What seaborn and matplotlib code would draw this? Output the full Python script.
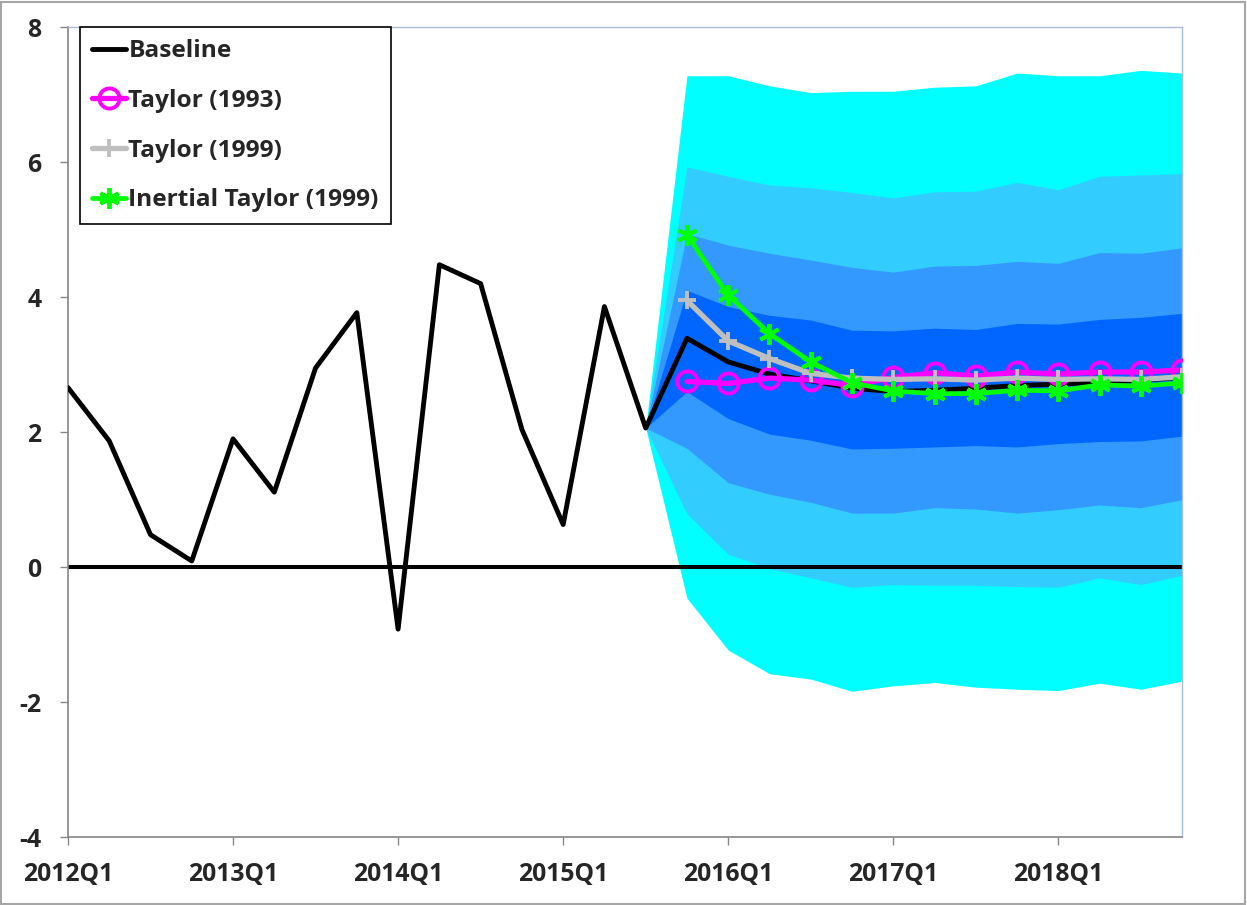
import matplotlib
matplotlib.use("Agg")
import matplotlib.pyplot as plt
import numpy as np
import pandas as pd
import seaborn as sns
from matplotlib import font_manager
from matplotlib.lines import Line2D
from matplotlib.patches import Rectangle

# quarters on the category axis
quarters = [
    "2012Q1", "2012Q2", "2012Q3", "2012Q4",
    "2013Q1", "2013Q2", "2013Q3", "2013Q4",
    "2014Q1", "2014Q2", "2014Q3", "2014Q4",
    "2015Q1", "2015Q2", "2015Q3", "2015Q4",
    "2016Q1", "2016Q2", "2016Q3", "2016Q4",
    "2017Q1", "2017Q2", "2017Q3", "2017Q4",
    "2018Q1", "2018Q2", "2018Q3", "2018Q4",
]
tick_labels = ["2012Q1", "2013Q1", "2014Q1", "2015Q1", "2016Q1", "2017Q1", "2018Q1"]

baseline = [2.66, 1.87, 0.48, 0.09, 1.90, 1.11, 2.95, 3.77, -0.92, 4.48, 4.20,
            2.04, 0.63, 3.86, 2.06,
            3.39, 3.04, 2.86, 2.76, 2.65, 2.60, 2.62, 2.65, 2.69, 2.71, 2.74, 2.77, 2.81]

# alternative rules, 2015Q4 onward
taylor_1993 = [2.75, 2.72, 2.80, 2.77, 2.69, 2.81, 2.88, 2.83, 2.89, 2.86, 2.89, 2.89, 2.92]
taylor_1999 = [3.95, 3.35, 3.09, 2.87, 2.80, 2.78, 2.79, 2.77, 2.80, 2.78, 2.79, 2.78, 2.82]
inertial_1999 = [4.92, 4.03, 3.46, 3.04, 2.73, 2.61, 2.57, 2.57, 2.62, 2.61, 2.70, 2.68, 2.73]

# fan bands, 2015Q3 onward (start at baseline value)
cyan_hi = [2.06, 7.28, 7.28, 7.13, 7.03, 7.05, 7.05, 7.11, 7.13, 7.32, 7.28, 7.28, 7.36, 7.32]
light_hi = [2.06, 5.93, 5.79, 5.66, 5.62, 5.55, 5.47, 5.56, 5.57, 5.70, 5.59, 5.79, 5.81, 5.83]
mid_hi = [2.06, 4.94, 4.77, 4.65, 4.55, 4.44, 4.37, 4.46, 4.47, 4.53, 4.50, 4.66, 4.65, 4.73]
dark_hi = [2.06, 4.10, 3.86, 3.73, 3.66, 3.51, 3.50, 3.54, 3.52, 3.61, 3.60, 3.67, 3.70, 3.76]
dark_lo = [2.06, 2.60, 2.20, 1.97, 1.88, 1.75, 1.76, 1.78, 1.80, 1.78, 1.83, 1.86, 1.87, 1.94]
mid_lo = [2.06, 1.76, 1.25, 1.08, 0.96, 0.80, 0.80, 0.88, 0.86, 0.80, 0.85, 0.92, 0.88, 1.00]
light_lo = [2.06, 0.79, 0.19, -0.02, -0.16, -0.30, -0.26, -0.27, -0.27, -0.29, -0.30, -0.16, -0.26, -0.12]
cyan_lo = [2.06, -0.46, -1.23, -1.58, -1.66, -1.84, -1.76, -1.71, -1.78, -1.81, -1.83, -1.72, -1.81, -1.69]

legend_labels = ["Baseline", "Taylor (1993)", "Taylor (1999)", "Inertial Taylor (1999)"]

# +
sns.set_style("white")

# pick a family that really has a bold face
bold_fams = {f.name for f in font_manager.fontManager.ttflist if f.weight in (700, "bold")}
family = "DejaVu Sans"
for cand in ["Open Sans", "Noto Sans", "Roboto", "Liberation Sans", "Lato"]:
    if cand in bold_fams:
        family = cand
        break
plt.rcParams["font.family"] = [family, "DejaVu Sans"]
plt.rcParams["font.weight"] = "bold"

pos = np.arange(len(quarters))
fan_pos = pos[quarters.index("2015Q3"):]
alt_pos = pos[quarters.index("2015Q4"):]

base_df = pd.DataFrame({"pos": pos, "value": baseline})
alt_df = pd.DataFrame({
    "pos": alt_pos,
    "t93": taylor_1993,
    "t99": taylor_1999,
    "it99": inertial_1999,
})

fig, ax = plt.subplots(figsize=(12.47, 9.05), dpi=100)
fig.subplots_adjust(left=0.0545, right=0.948, bottom=0.0751, top=0.970)
renderer = fig.canvas.get_renderer()


def fit_size(text, target_px):
    t = fig.text(0, 0, text, fontsize=10, fontweight="bold")
    w = t.get_window_extent(renderer=renderer).width
    t.remove()
    return 10 * target_px / w


tick_fs = fit_size("2013Q1", 90)
leg_fs = fit_size("Inertial Taylor (1999)", 251)

bands = [
    (cyan_lo, cyan_hi, "#00FFFF"),
    (light_lo, light_hi, "#33CCFF"),
    (mid_lo, mid_hi, "#3399FF"),
    (dark_lo, dark_hi, "#0066FF"),
]
for lo, hi, col in bands:
    ax.fill_between(fan_pos, lo, hi, color=col, linewidth=0, zorder=1)

ax.axhline(0, color="black", linewidth=2.9, zorder=2)

magenta_kw = dict(color="#FF00FF", linewidth=3.8, marker="o", markersize=14.5,
                  markerfacecolor="none", markeredgecolor="#FF00FF", markeredgewidth=2.8)
grey_kw = dict(color="#BFBFBF", linewidth=3.8, marker="+", markersize=13,
               markeredgecolor="#BFBFBF", markeredgewidth=2.8)
green_kw = dict(color="#00FF00", linewidth=3.4, marker=(6, 2, 0), markersize=15,
                markeredgecolor="#00FF00", markeredgewidth=2.8)

sns.lineplot(data=base_df, x="pos", y="value", ax=ax, color="black",
             linewidth=3.5, zorder=3)
sns.lineplot(data=alt_df, x="pos", y="t93", ax=ax, zorder=4, **magenta_kw)
sns.lineplot(data=alt_df, x="pos", y="t99", ax=ax, zorder=5, **grey_kw)
sns.lineplot(data=alt_df, x="pos", y="it99", ax=ax, zorder=6, **green_kw)

ax.set_xlim(0, len(quarters) - 1)
ax.set_ylim(-4, 8)
ax.set_yticks(np.arange(-4, 9, 2))
ax.set_yticklabels([str(v) for v in range(-4, 9, 2)], fontsize=tick_fs, fontweight="bold")
ax.set_xticks([quarters.index(q) for q in tick_labels])
ax.set_xticklabels(tick_labels, fontsize=tick_fs, fontweight="bold")
ax.set_xlabel("")
ax.set_ylabel("")
ax.tick_params(axis="y", direction="out", length=6, width=1, color="#868686", pad=13, left=True)
ax.tick_params(axis="x", direction="out", length=6, width=1, color="#868686", pad=12, bottom=True)

for side in ["left", "bottom"]:
    ax.spines[side].set_color("#868686")
    ax.spines[side].set_linewidth(1.2)
for side in ["top", "right"]:
    ax.spines[side].set_color("#A9BDDB")
    ax.spines[side].set_linewidth(1.0)

handles = [
    Line2D([], [], color="black", linewidth=3.5),
    Line2D([], [], **magenta_kw),
    Line2D([], [], **grey_kw),
    Line2D([], [], **green_kw),
]
fs_px = leg_fs * 100 / 72
leg = ax.legend(handles, legend_labels, loc="upper left", bbox_to_anchor=(0.011, 1.0),
                prop={"weight": "bold", "size": leg_fs}, frameon=True,
                fancybox=False, edgecolor="black", framealpha=1, borderaxespad=0,
                handlelength=34 / fs_px, handletextpad=2 / fs_px,
                labelspacing=(55 - 1.2 * fs_px) / fs_px, borderpad=0.5)
leg.get_frame().set_linewidth(1.2)

fig.add_artist(Rectangle((0.001, 0.001), 0.997, 0.997, transform=fig.transFigure,
                         fill=False, edgecolor="#A6A6A6", linewidth=1.5))

fig.savefig("out.png", dpi=100)
# -
